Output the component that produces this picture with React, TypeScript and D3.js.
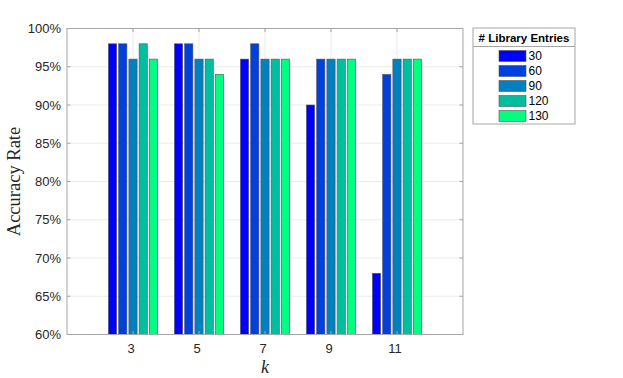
import React from "react";
import * as d3 from "d3";

const kValues = [3, 5, 7, 9, 11];
const seriesNames = ["30", "60", "90", "120", "130"];
const acc30 = [98, 98, 96, 90, 68];
const acc60 = [98, 98, 98, 96, 94];
const acc90 = [96, 96, 96, 96, 96];
const acc120 = [98, 96, 96, 96, 96];
const acc130 = [96, 94, 96, 96, 96];
const seriesValues = [acc30, acc60, acc90, acc120, acc130];
const yTicks = [60, 65, 70, 75, 80, 85, 90, 95, 100];
const colors = ["#0000ff", "#0040df", "#0080bf", "#00bf9f", "#00ff80"];

export default function App() {
  const W = 623, H = 378;
  const L = 67, R = 463, T = 28.5, B = 334.5;
  const x = d3.scaleLinear().domain([1, 13]).range([L, R]);
  const y = d3.scaleLinear().domain([60, 100]).range([B, T]);
  const pitch = 0.31, bw = 0.25;
  const font = "'Liberation Sans', Arial, sans-serif";
  const tickCol = "#262626";
  const lx = 473, ly = 28, lw = 102, lh = 96;
  return (
    <svg width={W} height={H} style={{ position: "absolute", left: 0, top: 0, background: "#fff" }}>
      <rect x={0} y={0} width={W} height={H} fill="#fff" />
      {yTicks.map((t) => (
        <line key={"g" + t} x1={L} x2={R} y1={y(t)} y2={y(t)} stroke="#ebebeb" strokeWidth={1} />
      ))}
      {kValues.map((k) => (
        <line key={"gx" + k} x1={x(k)} x2={x(k)} y1={T} y2={B} stroke="#ebebeb" strokeWidth={1} />
      ))}
      {seriesValues.map((vals, si) =>
        vals.map((v, ki) => {
          const cx = kValues[ki] + (si - 2) * pitch;
          const x0 = x(cx - bw / 2), x1 = x(cx + bw / 2);
          return (
            <rect key={si + "-" + ki} x={x0} y={y(v)} width={x1 - x0} height={y(60) - y(v)}
              fill={colors[si]} stroke="#555" strokeWidth={0.6} />
          );
        })
      )}
      <rect x={L} y={T} width={R - L} height={B - T} fill="none" stroke="#a6a6a6" strokeWidth={1} />
      {yTicks.map((t) => (
        <g key={"yt" + t}>
          <line x1={L} x2={L + 3.5} y1={y(t)} y2={y(t)} stroke="#a6a6a6" />
          <line x1={R} x2={R - 3.5} y1={y(t)} y2={y(t)} stroke="#a6a6a6" />
          <text x={L - 6} y={y(t)} dy="0.35em" textAnchor="end" fontFamily={font} fontSize={13} fill={tickCol}>{t}%</text>
        </g>
      ))}
      {kValues.map((k) => (
        <g key={"xt" + k}>
          <line x1={x(k)} x2={x(k)} y1={B} y2={B - 3.5} stroke="#a6a6a6" />
          <line x1={x(k)} x2={x(k)} y1={T} y2={T + 3.5} stroke="#a6a6a6" />
          <text x={x(k) - 2} y={B + 18} textAnchor="middle" fontFamily={font} fontSize={13} fill={tickCol}>{k}</text>
        </g>
      ))}
      <text x={(L + R) / 2} y={373} textAnchor="middle" fontFamily="'Liberation Serif', 'DejaVu Serif', serif" fontStyle="italic" fontSize={18} fill={tickCol}>k</text>
      <text transform={`translate(20,${(T + B) / 2}) rotate(-90)`} textAnchor="middle" fontFamily="'Liberation Serif', 'DejaVu Serif', serif" fontSize={18.5} fill={tickCol}>Accuracy Rate</text>
      <rect x={lx} y={ly} width={lw} height={lh} fill="#fff" stroke="#a6a6a6" strokeWidth={1} />
      <line x1={lx} x2={lx + lw} y1={46.5} y2={46.5} stroke="#a6a6a6" strokeWidth={1} />
      <text x={lx + lw / 2} y={42} textAnchor="middle" fontFamily={font} fontWeight="bold" fontSize={11.5} fill="#000">
        # Library Entries
      </text>
      {seriesNames.map((n, i) => {
        const cy = 56 + i * 15;
        return (
          <g key={"lg" + n}>
            <rect x={499} y={cy - 5.5} width={27} height={11} fill={colors[i]} stroke="#555" strokeWidth={0.6} />
            <text x={528.5} y={cy} dy="0.36em" fontFamily={font} fontSize={12} fill="#000">{n}</text>
          </g>
        );
      })}
    </svg>
  );
}
